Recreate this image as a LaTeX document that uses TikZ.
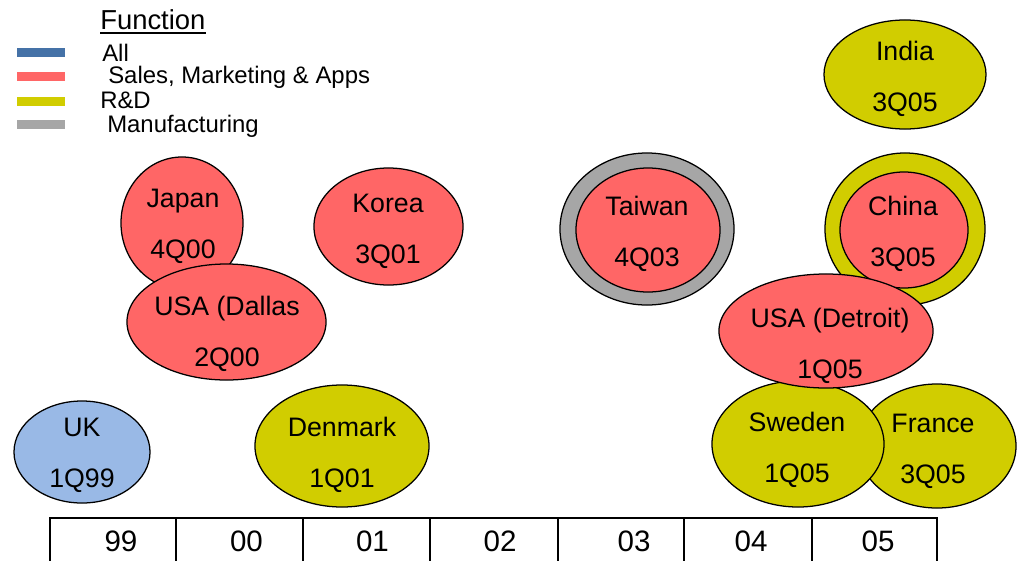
\documentclass[tikz,border=0pt]{standalone}
\usepackage{fontspec}
\setmainfont{Liberation Sans}
\usetikzlibrary{shapes.geometric,calc}
\definecolor{AllClr}{RGB}{69,114,167}
\definecolor{UKClr}{RGB}{153,185,230}
\definecolor{SalesClr}{RGB}{255,102,102}
\definecolor{RDClr}{RGB}{209,205,0}
\definecolor{MfgClr}{RGB}{166,166,166}

\begin{document}
\begin{tikzpicture}[x=0.025cm,y=-0.025cm,
  site/.style={ellipse,draw=black,line width=0.9pt,inner sep=0pt,outer sep=0pt},
  sitetext/.style={align=center,inner sep=0pt,yshift=-1.8pt,font=\fontsize{19}{36.3}\selectfont},
  legtext/.style={anchor=base west,inner sep=0pt,font=\fontsize{17}{20}\selectfont},
  legbar/.style={line width=6.4pt},
  yeartext/.style={inner sep=0pt,font=\fontsize{21}{24}\selectfont}]
\useasboundingbox[fill=white] (0,0) rectangle (1019,560);

% legend
\node[legtext,font=\fontsize{19.5}{22}\selectfont] (function) at (100,29.5) {Function};
\draw[line width=1pt] ($(function.base west)+(0,3.5)$) -- ($(function.base east)+(0,3.5)$);
\draw[legbar,AllClr] (17,52) -- (65,52);
\draw[legbar,SalesClr] (17,76) -- (65,76);
\draw[legbar,RDClr] (17,101.5) -- (65,101.5);
\draw[legbar,MfgClr] (17,124) -- (65,124);
\node[legtext] (all) at (102,61) {All};
\node[legtext] (sales) at (108,83) {Sales, Marketing \& Apps};
\node[legtext] (rd) at (100,108) {R\&D};
\node[legtext] (mfg) at (107,132.5) {Manufacturing};

% sites
\node[site,fill=UKClr,minimum width=3.4cm,minimum height=2.55cm] (uk) at (82,452) {};
\node[site,fill=RDClr,minimum width=4.35cm,minimum height=3.05cm] (denmark) at (342,446) {};
\node[site,fill=SalesClr,minimum width=3.05cm,minimum height=3.3cm] (japan) at (182,223) {};
\node[site,fill=SalesClr,minimum width=4.975cm,minimum height=2.9cm] (dallas) at (226.5,322) {};
\node[site,fill=SalesClr,minimum width=3.725cm,minimum height=2.925cm] (korea) at (388.5,226.5) {};
\node[site,fill=MfgClr,minimum width=4.35cm,minimum height=3.8cm] (taiwan-ring) at (647,229) {};
\node[site,fill=SalesClr,minimum width=3.6cm,minimum height=3.1cm] (taiwan) at (648,230) {};
\node[site,fill=RDClr,minimum width=4.05cm,minimum height=2.725cm] (india) at (905,74.5) {};
\node[site,fill=RDClr,minimum width=4cm,minimum height=3.8cm] (china-ring) at (905,229) {};
\node[site,fill=SalesClr,minimum width=3.2cm,minimum height=2.9cm] (china) at (904,230) {};
\node[site,fill=RDClr,minimum width=3.95cm,minimum height=3.1cm] (france) at (937,446) {};
\node[site,fill=RDClr,minimum width=4.3cm,minimum height=3.15cm] (sweden) at (798,444) {};
\node[site,fill=SalesClr,minimum width=5.35cm,minimum height=2.85cm] (detroit) at (826,331) {};

\node[sitetext] (uk-t) at (82,453) {UK\\1Q99};
\node[sitetext] (denmark-t) at (342,452) {Denmark\\1Q01};
\node[sitetext] (japan-t) at (183,223.5) {Japan\\4Q00};
\node[sitetext] (dallas-t) at (227,331.5) {USA (Dallas\\2Q00};
\node[sitetext] (korea-t) at (388,228.5) {Korea\\3Q01};
\node[sitetext] (taiwan-t) at (647,231) {Taiwan\\4Q03};
\node[sitetext] (india-t) at (905,76.5) {India\\3Q05};
\node[sitetext] (china-t) at (903,231) {China\\3Q05};
\node[sitetext] (france-t) at (933,449) {France\\3Q05};
\node[sitetext] (sweden-t) at (797,447) {Sweden\\1Q05};
\node[sitetext] (detroit-t) at (830,343) {USA (Detroit)\\1Q05};

% timeline
\draw[line width=2pt] (50,518) rectangle (937,575);
\draw[line width=2pt] (176,518) -- (176,575) (303,518) -- (303,575)
  (430,518) -- (430,575) (558,518) -- (558,575)
  (684,518) -- (684,575) (812,518) -- (812,575);
\node[yeartext] (y99) at (121,541) {99};
\node[yeartext] (y00) at (246.5,541) {00};
\node[yeartext] (y01) at (372.5,541) {01};
\node[yeartext] (y02) at (500,541) {02};
\node[yeartext] (y03) at (634,541) {03};
\node[yeartext] (y04) at (751,541) {04};
\node[yeartext] (y05) at (878,541) {05};

\end{tikzpicture}
\end{document}
